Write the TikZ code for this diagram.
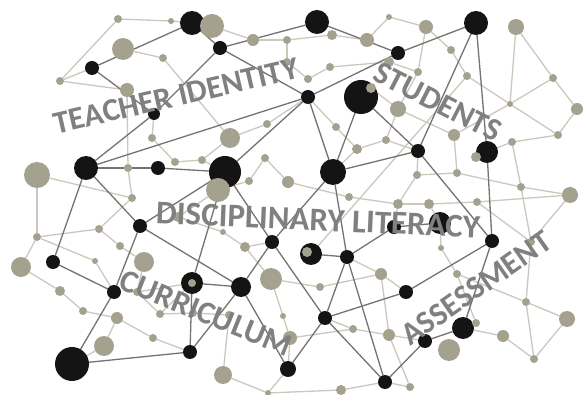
\documentclass[tikz,border=0pt]{standalone}
\usepackage{fontspec}
\setmainfont{Carlito}
\pgfdeclarelayer{bg}
\pgfsetlayers{bg,main}
\definecolor{nodeblack}{HTML}{151414}
\definecolor{nodetan}{HTML}{A4A18E}
\definecolor{edgedark}{HTML}{767272}
\definecolor{edgelight}{HTML}{CCC8BE}
\definecolor{labelgray}{HTML}{808080}
\begin{document}
\begin{tikzpicture}[x=1pt,y=-1pt,
  bn/.style={circle,fill=nodeblack,inner sep=0pt,outer sep=0pt,draw=none},
  tn/.style={circle,fill=nodetan,inner sep=0pt,outer sep=0pt,draw=none},
  dk/.style={draw=edgedark,line width=1.3pt},
  lt/.style={draw=edgelight,line width=1.3pt},
  lbl/.style={text=labelgray,font=\bfseries\fontsize{32}{32}\selectfont,inner sep=0pt}]
\useasboundingbox (0,0) rectangle (584,395);
% black nodes
\foreach \n/\x/\y/\r in {b1/192/23/12, b2/220/48/7, b3/92/68/7, b4/154/114/6, b5/86/168/12,
  b6/158/168/7, b7/225/172/16, b8/317/22/12, b9/476/23/12, b10/398/53/7, b11/308/97/7,
  b12/361/97/17, b13/418/151/7, b14/333/172/13, b15/487/152/11, b16/140/226/7, b17/53/262/7,
  b18/114/292/7, b19/192/283/11, b20/241/287/10, b21/272/242/7, b22/72/364/17, b23/190/352/7,
  b24/288/369/8, b25/311/254/11, b26/347/257/7, b27/394/227/7, b28/440/223/11, b29/492/241/7,
  b30/406/292/7, b31/325/318/7, b32/463/328/11, b33/425/341/7, b34/385/382/7}
  \node[bn,minimum size=2*\r pt] (\n) at (\x,\y) {};
% tan nodes
\foreach \n/\x/\y/\r in {t1/118/19/4, t2/171/21/3, t3/212/26/12, t4/253/40/6, t5/287/40/4,
  t6/332/35/5, t7/367/40/7, t8/389/17/3, t9/426/27/7, t10/451/50/4, t11/516/27/8, t12/123/49/11,
  t13/163/58/4, t14/60/81/4, t15/127/90/7, t16/287/62/4, t17/330/67/4, t18/308/79/4, t19/389/62/5,
  t20/418/72/4, t21/467/76/4, t22/553/78/4, t23/371/88/5, t24/398/109/8, t25/510/104/3,
  t26/577/109/6, t27/267/124/4, t28/230/138/10, t29/152/138/4, t30/336/127/4, t31/386/140/4,
  t32/454/135/6, t33/558/135/4, t34/512/142/4, t35/357/149/5, t36/37/175/13, t37/128/168/4,
  t38/175/162/4, t39/202/160/4, t40/265/158/4, t41/476/157/5, t42/417/175/4, t43/457/173/4,
  t44/288/182/6, t45/249/181/4, t46/218/190/12, t47/132/198/4, t49/349/197/4, t50/521/187/4,
  t51/570/195/8, t52/398/204/5, t53/429/204/5, t54/477/202/4, t55/178/217/5, t56/99/229/4,
  t57/37/237/4, t58/223/232/3, t59/120/246/4, t60/245/247/5, t61/95/261/3, t62/144/262/10,
  t63/21/267/10, t64/307/252/5, t65/441/248/3, t66/531/242/4, t67/271/279/11, t68/320/287/4,
  t69/381/274/6, t70/457/274/4, t71/60/291/5, t72/192/283/4, t73/83/311/4, t74/117/318/6,
  t75/160/314/4, t76/193/313/4, t77/229/315/4, t78/283/316/3, t79/526/302/4, t80/567/319/8,
  t81/476/323/4, t82/353/329/4, t83/389/335/6, t84/290/338/7, t85/153/338/4, t86/104/346/10,
  t87/503/336/6, t88/449/350/11, t89/534/359/4, t90/223/375/9, t91/268/393/3, t92/341/390/5,
  t93/410/387/4, t94/137/292/4}
  \node[tn,minimum size=2*\r pt] (\n) at (\x,\y) {};
\begin{pgfonlayer}{bg}
\fill[white] (0,0) rectangle (584,395);
\foreach \a/\b in {t1/t2, t2/b1, t1/t14, t14/b3, t14/t15, t12/t13, t3/t4, t4/t5, t5/t6, t6/t7,
  t7/t8, t8/t9, t9/t20, t9/t10, t10/t21, t20/t24, t19/t20, t17/t18, t17/t19, t16/t18, t16/t5,
  t23/t24, t24/t31, t30/t35, t30/b11, t35/t31, t35/b14, t31/b13, t27/t28, t27/b11, t13/t28,
  t40/t44, t40/t45, t44/t49, t45/t46, t46/t55, t15/t37, b4/t29, t29/t38, t38/t39, t39/b7, t28/t39,
  t36/t47, t36/t57, t37/t47, t47/t56, t57/t56, t56/t59, t59/t62, t57/t61, t61/b18, t63/t71,
  t63/t57, t71/t73, t73/t74, t74/t86, t74/t85, t62/t94, t94/t75, t94/b19, t75/t76, t75/b19,
  t76/t77, t77/t90, t90/t91, t91/b24, t91/t92, t92/b34, t93/b34, t93/t83, t85/b23, t86/b22,
  t55/t58, t58/t60, t60/t67, t60/b21, t21/b25, t67/t68, t67/t78, t78/t84, t84/b24, t68/t69,
  t69/b30, t69/b26, t69/t83, t82/b31, t82/t83, t83/b33, t84/t82, t49/t52, t52/t53, t53/t54,
  t54/t51, t52/b27, t53/b28, b28/t65, t65/t70, t70/t79, t70/t81, t81/b32, t51/t66, t54/t66,
  t66/t50, t66/t79, t79/t80, t79/t89, t80/t89, t89/t87, t87/b32, t11/t25, t11/t22, t22/t26,
  t22/t25, t26/t33, t33/t25, t25/t21, t25/t32, t33/t34, t34/b15, t34/t50, t50/t51, t50/t43,
  t43/t32, t42/b13, t42/t43, t42/t52, t32/t24}
  \draw[lt] (\a) -- (\b);
\foreach \a/\b in {b1/b2, b1/b3, b3/b4, b2/b4, b4/b5, b2/b8, b2/b11, b8/b10, b9/b10, b10/b11,
  b9/b13, b9/b15, b12/b13, b12/b14, b11/b14, b13/b14, b5/b11, b5/b6, b6/b7, b7/b11, b5/b17,
  b5/b16, b7/b16, b7/b21, b14/b21, b14/b26, b21/b20, b21/b31, b25/b26, b13/b29, b15/b29,
  b26/b27, b27/b28, b29/b30, b30/b31, b31/b26, b31/b24, b26/b34, b31/b34, b34/b33, b33/b32,
  b32/b29, b16/b18, b17/b18, b18/b22, b22/b23, b19/b23, b19/b20, b20/b23, b16/b20, b20/b24,
  b19/b7}
  \draw[dk] (\a) -- (\b);
\end{pgfonlayer}
% labels
\node[lbl,rotate=13] (lteach) at (176,96) {TEACHER IDENTITY};
\node[lbl,rotate=-27] (lstud) at (438,102) {STUDENTS};
\node[lbl,rotate=-2.5,font=\bfseries\fontsize{33}{33}\selectfont] (ldisc) at (318,220) {DISCIPLINARY LITERACY};
\node[lbl,rotate=-22] (lcurr) at (206,313) {CURRICULUM};
\node[lbl,rotate=35] (lasse) at (476,288) {ASSESSMENT};
\end{tikzpicture}
\end{document}
